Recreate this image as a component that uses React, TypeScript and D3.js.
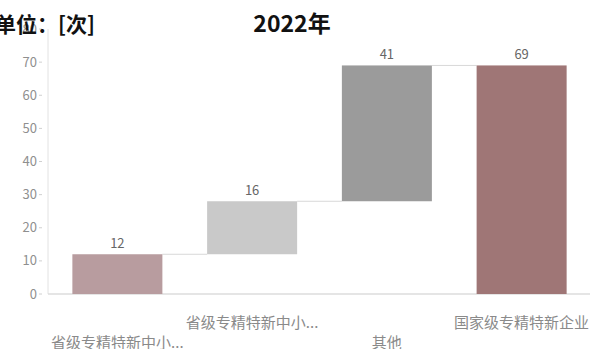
import React from "react";
import * as d3 from "d3";

const categories = ["省级专精特新中小...", "省级专精特新中小...", "其他", "国家级专精特新企业"];
const increments = [12, 16, 41];
const totalValue = 69;
const yTicks = [0, 10, 20, 30, 40, 50, 60, 70, 80];
const barColors = ["#b89c9f", "#c9c9c9", "#9b9b9b", "#9f7676"];
const titleUnit = "单位：[次]";
const titleYear = "2022年";

const W = 594;
const H = 349;
const FONT = "'Noto Sans CJK SC', 'Noto Sans', sans-serif";

export default function App() {
  const x = d3.scaleBand<string>()
    .domain(categories.map((_, i) => String(i)))
    .range([50, 589])
    .paddingInner(0.332)
    .paddingOuter(0.166);
  const y = d3.scaleLinear().domain([0, 80]).range([294, 29]);

  // build waterfall segments
  const segs: { start: number; end: number; value: number }[] = [];
  let acc = 0;
  increments.forEach((v) => {
    segs.push({ start: acc, end: acc + v, value: v });
    acc += v;
  });
  segs.push({ start: 0, end: totalValue, value: totalValue });

  const bw = x.bandwidth();

  return (
    <svg width={W} height={H} style={{ position: "absolute", left: 0, top: 0, background: "#fff" }}>
      <rect x={0} y={0} width={W} height={H} fill="#fff" />
      {/* y axis */}
      <line x1={48} x2={48} y1={y(80)} y2={y(0)} stroke="#e2e2e2" strokeWidth={1} />
      <line x1={48} x2={590} y1={y(0)} y2={y(0)} stroke="#dcdcdc" strokeWidth={1.5} />
      {yTicks.map((t) => (
        <g key={t}>
          <text x={37} y={y(t)} dy="0.35em" textAnchor="end" fontSize={13} fill="#8f8f8f" fontFamily={FONT}>
            {t}
          </text>
          <line x1={39} x2={42} y1={y(t)} y2={y(t)} stroke="#d0d0d0" />
        </g>
      ))}
      {/* connectors */}
      {segs.slice(0, -1).map((s, i) => {
        const x0 = (x(String(i)) as number) + bw;
        const x1 = x(String(i + 1)) as number;
        return <line key={"c" + i} x1={x0} x2={x1} y1={y(s.end)} y2={y(s.end)} stroke="#d8d8d8" strokeWidth={1} />;
      })}
      {/* bars */}
      {segs.map((s, i) => (
        <g key={"b" + i}>
          <rect
            x={x(String(i)) as number}
            y={y(s.end)}
            width={bw}
            height={y(s.start) - y(s.end)}
            fill={barColors[i]}
          />
          <text
            x={(x(String(i)) as number) + bw / 2}
            y={y(s.end) - 6}
            textAnchor="middle"
            fontSize={13}
            fill="#666"
            fontFamily={FONT}
          >
            {s.value}
          </text>
        </g>
      ))}
      {/* category labels, staggered */}
      {categories.map((c, i) => (
        <text
          key={"l" + i}
          x={(x(String(i)) as number) + bw / 2}
          y={i % 2 === 0 ? 343 : 323}
          dy="0.35em"
          textAnchor="middle"
          fontSize={15}
          fill="#8a8a8a"
          fontFamily={FONT}
        >
          {c}
        </text>
      ))}
      {/* titles */}
      <text x={-5} y={32} fontSize={21} fontWeight={700} fill="#111" fontFamily={FONT}>
        {titleUnit}
      </text>
      <text x={292} y={32} textAnchor="middle" fontSize={23} fontWeight={700} fill="#111" fontFamily={FONT}>
        {titleYear}
      </text>
    </svg>
  );
}
